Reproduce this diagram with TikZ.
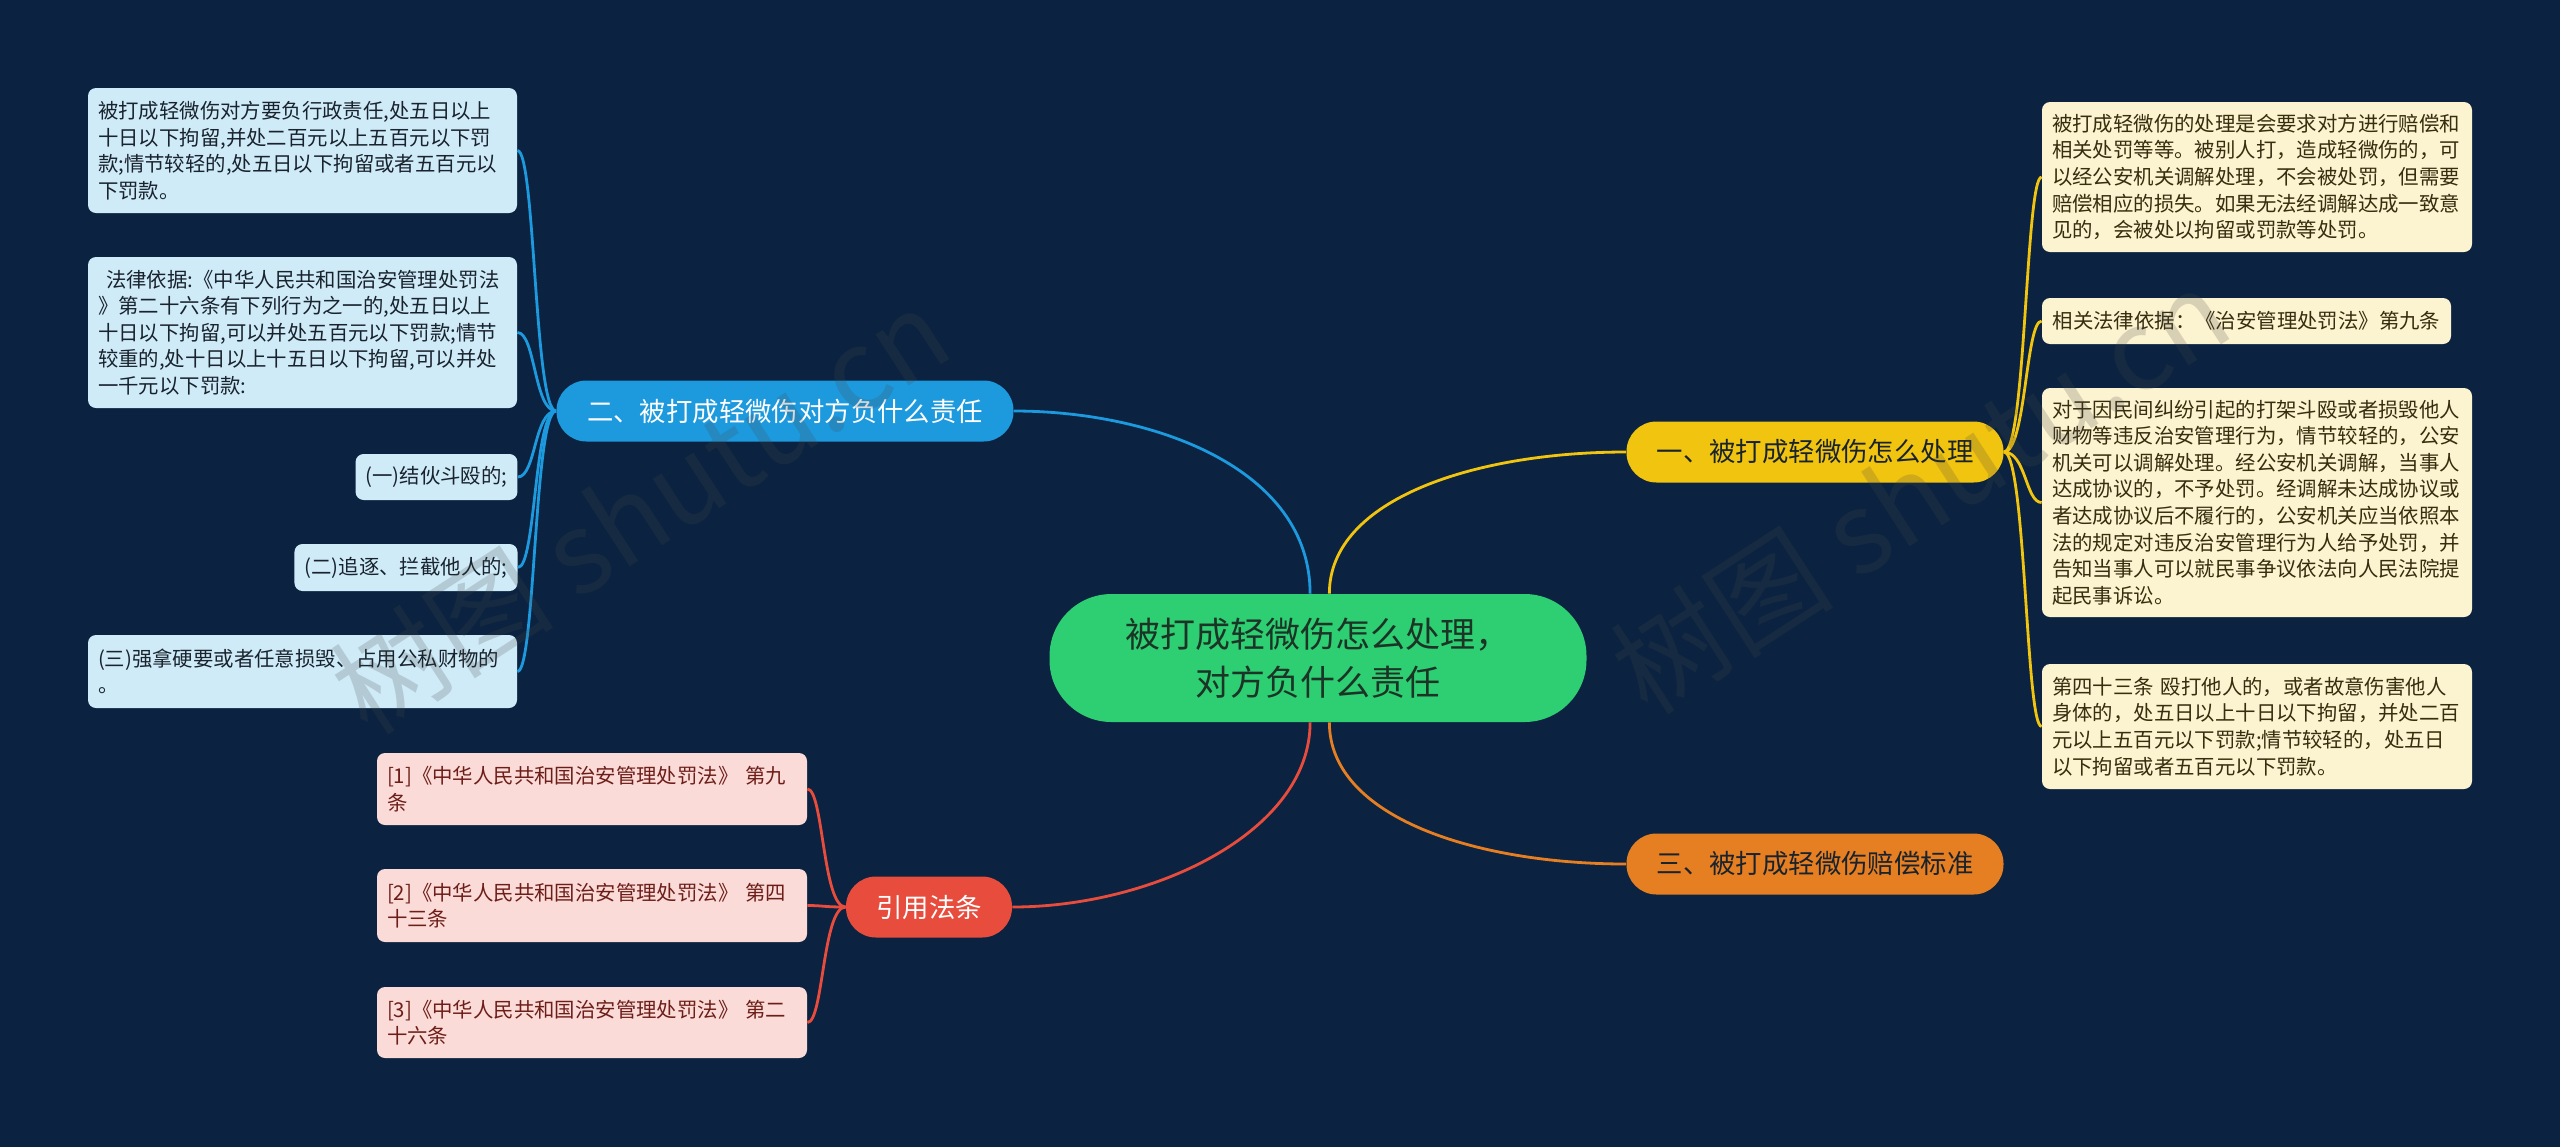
\documentclass[tikz,border=0pt]{standalone}
\usepackage{fontspec}
\setmainfont{Noto Sans CJK SC}
\definecolor{bgnavy}{RGB}{11,35,64}
\definecolor{cgreen}{RGB}{46,206,114}
\definecolor{ctext}{RGB}{28,52,38}
\definecolor{bblue}{RGB}{29,153,222}
\definecolor{lblue}{RGB}{207,235,248}
\definecolor{btext}{RGB}{25,35,45}
\definecolor{byellow}{RGB}{241,196,15}
\definecolor{lyellow}{RGB}{252,243,208}
\definecolor{ytext}{RGB}{55,45,15}
\definecolor{borange}{RGB}{230,126,34}
\definecolor{bred}{RGB}{231,76,60}
\definecolor{lpink}{RGB}{250,219,216}
\definecolor{ptext}{RGB}{110,30,25}
\definecolor{wmark}{RGB}{70,70,70}

\begin{document}
\begin{tikzpicture}[x=0.5pt,y=-0.5pt]
    \tikzstyle{cnode} = [rectangle, rounded corners=31pt, fill=cgreen, text=ctext, minimum width=268.5pt, minimum height=64pt, align=center, font=\fontsize{17.5}{24}\selectfont]
    \tikzstyle{bnode} = [rectangle, rounded corners=15pt, minimum height=30.5pt, inner sep=0pt, font=\fontsize{13.2}{16}\selectfont]
    \tikzstyle{lnode} = [rectangle, rounded corners=4pt, inner xsep=5pt, inner ysep=0pt, align=left, font=\fontsize{10.2}{13.3}\selectfont]
    \tikzstyle{link} = [line width=1.4pt]
    \tikzstyle{wnode} = [rotate=33, text=wmark, opacity=0.2, font=\fontsize{56}{56}\selectfont]
    \useasboundingbox (0,0) rectangle (2560,1147);
    \fill[bgnavy] (0,0) rectangle (2560,1147);

    \node[cnode] (c) at (1318,658) {被打成轻微伤怎么处理，\\对方负什么责任};
    \node[bnode, fill=bblue, text=white, minimum width=228.5pt] (b2) at (785,411) {二、被打成轻微伤对方负什么责任};
    \node[bnode, fill=byellow, text=btext, minimum width=188.5pt] (b1) at (1815,452) {一、被打成轻微伤怎么处理};
    \node[bnode, fill=borange, text=btext, minimum width=188.5pt] (b3) at (1815,864) {三、被打成轻微伤赔偿标准};
    \node[bnode, fill=bred, text=white, minimum width=83pt] (b4) at (929,907) {引用法条};

    \node[lnode, fill=lblue, text=btext, text width=204.5pt, minimum height=62.5pt] (l1) at (302.5,150.5) {被打成轻微伤对方要负行政责任,处五日以上\\十日以下拘留,并处二百元以上五百元以下罚\\款;情节较轻的,处五日以下拘留或者五百元以\\下罚款。};
    \node[lnode, fill=lblue, text=btext, text width=204.5pt, minimum height=75.5pt] (l2) at (302.5,332.5) {\hspace*{0.4em}法律依据:《中华人民共和国治安管理处罚法\\》第二十六条有下列行为之一的,处五日以上\\十日以下拘留,可以并处五百元以下罚款;情节\\较重的,处十日以上十五日以下拘留,可以并处\\一千元以下罚款:};
    \node[lnode, fill=lblue, text=btext, minimum width=80.5pt, minimum height=23pt] (l3) at (436.5,477) {(一)结伙斗殴的;};
    \node[lnode, fill=lblue, text=btext, minimum width=111pt, minimum height=23.5pt] (l4) at (406,567.5) {(二)追逐、拦截他人的;};
    \node[lnode, fill=lblue, text=btext, text width=204.5pt, minimum height=36.5pt] (l5) at (302.5,671.5) {(三)强拿硬要或者任意损毁、占用公私财物的\\。};

    \node[lnode, fill=lyellow, text=ytext, text width=205pt, minimum height=75pt] (r1) at (2257,177) {被打成轻微伤的处理是会要求对方进行赔偿和\\相关处罚等等。被别人打，造成轻微伤的，可\\以经公安机关调解处理，不会被处罚，但需要\\赔偿相应的损失。如果无法经调解达成一致意\\见的，会被处以拘留或罚款等处罚。};
    \node[lnode, fill=lyellow, text=ytext, minimum width=204.5pt, minimum height=23pt] (r2) at (2246.5,321) {相关法律依据：《治安管理处罚法》第九条};
    \node[lnode, fill=lyellow, text=ytext, text width=205pt, minimum height=114.5pt] (r3) at (2257,502.5) {对于因民间纠纷引起的打架斗殴或者损毁他人\\财物等违反治安管理行为，情节较轻的，公安\\机关可以调解处理。经公安机关调解，当事人\\达成协议的，不予处罚。经调解未达成协议或\\者达成协议后不履行的，公安机关应当依照本\\法的规定对违反治安管理行为人给予处罚，并\\告知当事人可以就民事争议依法向人民法院提\\起民事诉讼。};
    \node[lnode, fill=lyellow, text=ytext, text width=205pt, minimum height=62.5pt] (r4) at (2257,726.5) {第四十三条 殴打他人的，或者故意伤害他人\\身体的，处五日以上十日以下拘留，并处二百\\元以上五百元以下罚款;情节较轻的，处五日\\以下拘留或者五百元以下罚款。};

    \node[lnode, fill=lpink, text=ptext, text width=205pt, minimum height=36pt] (p1) at (592,789) {[1]《中华人民共和国治安管理处罚法》 第九\\条};
    \node[lnode, fill=lpink, text=ptext, text width=205pt, minimum height=36.5pt] (p2) at (592,905.5) {[2]《中华人民共和国治安管理处罚法》 第四\\十三条};
    \node[lnode, fill=lpink, text=ptext, text width=205pt, minimum height=35.5pt] (p3) at (592,1022.5) {[3]《中华人民共和国治安管理处罚法》 第二\\十六条};

    \draw[link, bblue] (c.97) .. controls +(0,-125) and +(140,0) .. (b2.east);
    \draw[link, byellow] (c.80) .. controls +(0,-95) and +(-150,0) .. (b1.west);
    \draw[link, borange] (c.280) .. controls +(0,95) and +(-150,0) .. (b3.west);
    \draw[link, bred] (c.263) .. controls +(0,110) and +(140,0) .. (b4.east);
    % \draw[link, bblue] (b2) -- (l1);
    \draw[link, bblue] (b2.west) .. controls +(-22,0) and +(18,0) .. (l1.east);
    \draw[link, bblue] (b2.west) .. controls +(-22,0) and +(18,0) .. (l2.east);
    \draw[link, bblue] (b2.west) .. controls +(-22,0) and +(18,0) .. (l3.east);
    \draw[link, bblue] (b2.west) .. controls +(-22,0) and +(18,0) .. (l4.east);
    \draw[link, bblue] (b2.west) .. controls +(-22,0) and +(18,0) .. (l5.east);
    \draw[link, byellow] (b1.east) .. controls +(22,0) and +(-16,0) .. (r1.west);
    \draw[link, byellow] (b1.east) .. controls +(22,0) and +(-16,0) .. (r2.west);
    \draw[link, byellow] (b1.east) .. controls +(22,0) and +(-16,0) .. (r3.west);
    \draw[link, byellow] (b1.east) .. controls +(22,0) and +(-16,0) .. (r4.west);
    \draw[link, bred] (b4.west) .. controls +(-23,0) and +(16,0) .. (p1.east);
    \draw[link, bred] (b4.west) .. controls +(-23,0) and +(16,0) .. (p2.east);
    \draw[link, bred] (b4.west) .. controls +(-23,0) and +(16,0) .. (p3.east);

    % watermark
    \node[wnode] (wm1) at (640,510) {树图 shutu.cn};
    \node[wnode] (wm2) at (1920,490) {树图 shutu.cn};
\end{tikzpicture}
\end{document}
